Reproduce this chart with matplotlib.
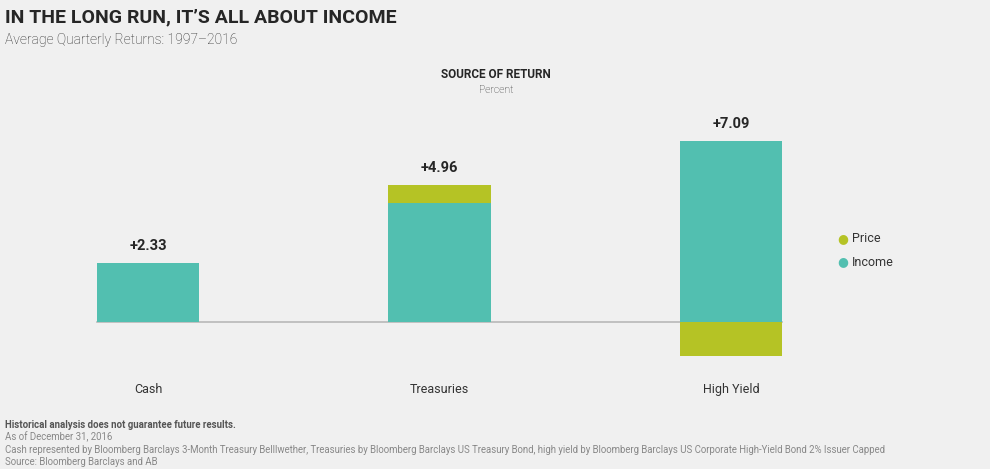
import matplotlib.pyplot as plt
import numpy as np

# data
categories = ["Cash", "Treasuries", "High Yield"]
income = np.array([2.33, 4.70, 7.15])
price = np.array([0.0, 0.71, -1.34])
total_labels = ["+2.33", "+4.96", "+7.09"]

c_income = "#52bfb0"
c_price = "#b5c325"
bg = "#f0f0f0"
dark = "#262626"

plt.rcParams["font.family"] = ["Roboto", "DejaVu Sans"]

W, H = 990, 469
fig = plt.figure(figsize=(W / 100, H / 100), dpi=100, facecolor=bg)

# axes placed in pixel terms: bar centres at 148/440/731, baseline at y=322
step = 291.5
top_px, bot_px = 130, 370
ppu = 25.3
ax = fig.add_axes([(148 - 0.5 * step) / W, (H - bot_px) / H, 3 * step / W, (bot_px - top_px) / H])
ax.set_facecolor(bg)
ax.set_xlim(-0.5, 2.5)
ax.set_ylim(-(bot_px - 322) / ppu, (322 - top_px) / ppu)
ax.axis("off")

x = np.arange(len(categories))
bw = 0.35
ax.plot([x[0] - bw / 2, x[-1] + bw / 2], [0, 0], color="#b8b8b8", lw=1.2, zorder=1)
ax.bar(x, income, width=bw, color=c_income, zorder=2)
pos_price = np.where(price > 0, price, 0)
neg_price = np.where(price < 0, price, 0)
ax.bar(x, pos_price, bottom=income, width=bw, color=c_price, zorder=2)
ax.bar(x, neg_price, width=bw, color=c_price, zorder=2)

tops = income + pos_price
for xi, t, lab in zip(x, tops, total_labels):
    ax.annotate(lab, (xi, t), xytext=(0, 7.5), textcoords="offset points",
                ha="center", va="bottom", fontsize=10.5, fontweight="bold", color=dark)

for xi, cat in zip(x, categories):
    fig.text((148 + xi * step) / W, 1 - 389 / H, cat, ha="center", va="center",
             fontsize=9, color="#333333")

# legend
for yy, lab, col in [(239, "Price", c_price), (262, "Income", c_income)]:
    fig.text(843 / W, 1 - yy / H, "\u25CF", ha="center", va="center", fontsize=9,
             color=col, family="DejaVu Sans")
    fig.text(852 / W, 1 - yy / H, lab, ha="left", va="center", fontsize=9, color="#333333")

# titles
fig.text(5 / W, 1 - 17 / H, "IN THE LONG RUN, IT\u2019S ALL ABOUT INCOME", ha="left", va="center",
         fontsize=14, fontweight="bold", color=dark)
fig.text(5 / W, 1 - 40 / H, "Average Quarterly Returns: 1997\u20132016", ha="left", va="center",
         fontsize=10, fontweight="light", color="#2a2a2a")
fig.text(496 / W, 1 - 75 / H, "SOURCE OF RETURN", ha="center", va="center",
         fontsize=8.5, fontweight="bold", color=dark)
fig.text(496 / W, 1 - 90 / H, "Percent", ha="center", va="center",
         fontsize=7.5, fontweight="light", color="#2a2a2a")

# footnotes
foot = [
    ("Historical analysis does not guarantee future results.", "bold", "#555555", 425),
    ("As of December 31, 2016", "normal", "#888888", 437),
    ("Cash represented by Bloomberg Barclays 3-Month Treasury Belllwether, Treasuries by Bloomberg Barclays "
     "US Treasury Bond, high yield by Bloomberg Barclays US Corporate High-Yield Bond 2% Issuer Capped",
     "normal", "#888888", 450),
    ("Source: Bloomberg Barclays and AB", "normal", "#888888", 462),
]
for txt, fw, col, yy in foot:
    fig.text(5 / W, 1 - yy / H, txt, ha="left", va="center", fontsize=6.9, fontweight=fw, color=col)

fig.savefig("out.png", dpi=100, facecolor=bg)
